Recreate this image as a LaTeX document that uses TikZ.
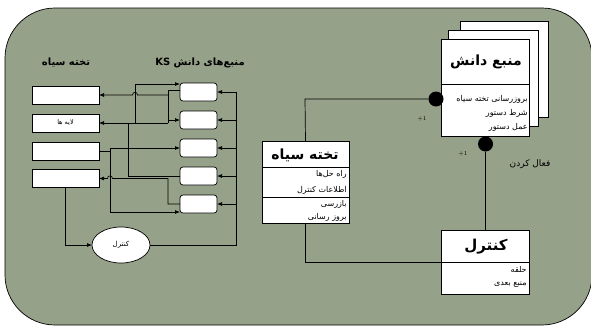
\documentclass[tikz,border=0pt]{standalone}
\usepackage{fontspec}
\usetikzlibrary{arrows.meta,shapes.geometric}
\newfontfamily\fa[Script=Arabic]{DejaVu Sans}
\TeXXeTstate=1
\definecolor{bg}{RGB}{150,161,137}
\newcommand\rl[1]{{\fa\beginR #1\endR}}
\begin{document}
\begin{tikzpicture}[x=1pt,y=-1pt,line width=0.7pt,
  arr/.style={-{Latex[length=5pt,width=4pt]}},
  lbox/.style={draw,fill=white,minimum width=67pt,minimum height=18pt,inner sep=0pt,outer sep=0pt},
  ksbox/.style={draw,fill=white,rounded corners=3pt,minimum width=37pt,minimum height=18pt,inner sep=0pt,outer sep=0pt},
  cls/.style={draw,fill=white,minimum width=88pt,inner sep=0pt,outer sep=0pt},
  dot/.style={circle,fill=black,minimum size=15pt,inner sep=0pt,outer sep=0pt},
  attr/.style={anchor=east,inner sep=0pt,font=\fontsize{8}{9}\selectfont},
  hdr/.style={inner sep=0pt,font=\fontsize{10}{12}\selectfont\bfseries}]
\useasboundingbox (0,0) rectangle (591,327);
\draw[fill=bg,rounded corners=50pt] (5,8) rectangle (592,325);

% headers
\node[hdr] (h1) at (66,63) {\rl{تخته سیاه}};
\node[hdr] (h2) at (200,63) {\rl{منبع‌های دانش \beginL KS\endL}};

% blackboard layers
\node[lbox] (B1) at (65.5,95) {};
\node[lbox] (B2) at (65.5,123) {\fontsize{6.5}{7}\selectfont\rl{لایه ها}};
\node[lbox] (B3) at (65.5,151) {};
\node[lbox] (B4) at (65.5,178.5) {};

% knowledge sources
\node[ksbox] (K1) at (198.5,92) {};
\node[ksbox] (K2) at (198.5,120) {};
\node[ksbox] (K3) at (198.5,148) {};
\node[ksbox] (K4) at (198.5,176) {};
\node[ksbox] (K5) at (198.5,204) {};

% control ellipse
\node[ellipse,draw,fill=white,minimum width=58pt,minimum height=36pt,inner sep=0pt,outer sep=0pt] (C) at (121,245) {\fontsize{7}{8}\selectfont\rl{کنترل}};

% connections left
\coordinate (j1) at (168,90);
\coordinate (j2) at (168,123);
\draw (K1.west |- j1) -- (j1) -- (j2);
\draw[arr] (168,95) -- (137.5,95) .. controls (137.5,91.5) and (132.5,91.5) .. (132.5,95) -- (B1.east);
\draw[arr] (j2) -- (B2.east);
\draw[arr] (168,120) -- (K2.west);
\draw[arr] (135,123) -- (135,84) -- (180,84);
\draw (K4.west) -- (128,176) -- (128,123);
\draw[arr] (K5.west) -- (168,204) -- (168,178.5) -- (112.5,178.5) .. controls (112.5,175) and (107.5,175) .. (107.5,178.5) -- (B4.east);
\draw (B3.east) -- (110,151);
\draw (110,148) -- (110,212);
\draw[arr] (110,148) -- (K3.west);
\draw[arr] (110,212) -- (180,212);

% right bus
\coordinate (r1) at (236,92);
\draw (C.east) -- (236,245) -- (r1);
\foreach \k in {K1,K2,K3,K4,K5}{\draw[arr] (r1 |- \k.east) -- (\k.east);}
\draw[arr] (B4.south) -- (B4.south |- C.west) -- (C.west);

% knowledge source class (stacked)
\node[cls,minimum height=96pt] (S3) at (504.5,69) {};
\node[cls,minimum height=96pt,minimum width=89.5pt] (S2) at (493.25,78.5) {};
\node[cls,minimum height=97pt] (KS) at (485.5,88) {};
\draw (KS.west |- 0,84) -- (KS.east |- 0,84);
\node[inner sep=0pt,font=\fontsize{14}{16}\selectfont\bfseries] (kst) at (486,62) {\rl{منبع دانش}};
\node[attr] (ka1) at (528,99) {\rl{بروزرسانی تخته سیاه}};
\node[attr] (ka2) at (528,113) {\rl{شرط دستور}};
\node[attr] (ka3) at (528,127) {\rl{عمل دستور}};

% blackboard class
\node[cls,minimum width=87pt,minimum height=82pt] (BB) at (305.5,182) {};
\draw (BB.west |- 0,167) -- (BB.east |- 0,167);
\draw (BB.west |- 0,197) -- (BB.east |- 0,197);
\node[inner sep=0pt,font=\fontsize{14}{16}\selectfont\bfseries] (bbt) at (305,155) {\rl{تخته سیاه}};
\node[attr] (ba1) at (347,174) {\rl{راه حل‌ها}};
\node[attr] (ba2) at (347,190) {\rl{اطلاعات کنترل}};
\node[attr] (ba3) at (347,204) {\rl{بازرسی}};
\node[attr] (ba4) at (347,217) {\rl{بروز رسانی}};

% control class
\node[cls,minimum width=87.5pt,minimum height=64pt] (CT) at (485.5,262) {};
\draw (CT.west |- 0,262) -- (CT.east |- 0,262);
\node[inner sep=0pt,font=\fontsize{15}{17}\selectfont\bfseries] (ctt) at (486,247) {\rl{کنترل}};
\node[attr] (ca1) at (527,269) {\rl{حلقه}};
\node[attr] (ca2) at (527,285) {\rl{منبع بعدی}};

% associations
\node[dot] (d1) at (436,99) {};
\node[dot] (d2) at (485.5,144) {};
\draw (d1) -- (305,99) -- (BB.north);
\draw (d2) -- (CT.north);
\draw (BB.south) -- (BB.south |- CT.west) -- (CT.west);
\node[inner sep=0pt,font=\fontsize{6}{7}\selectfont] (m1) at (422,119) {+1};
\node[inner sep=0pt,font=\fontsize{6}{7}\selectfont] (m2) at (463,154) {+1};
\node[inner sep=0pt,font=\fontsize{9}{10}\selectfont] (act) at (530,164) {\rl{فعال کردن}};
\end{tikzpicture}
\end{document}
